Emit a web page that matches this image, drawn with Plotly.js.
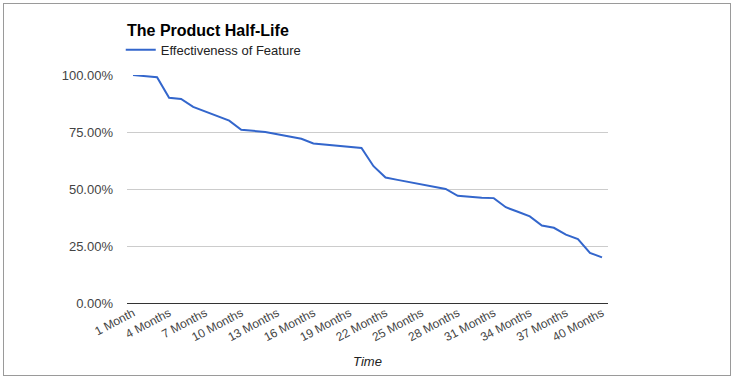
<!DOCTYPE html>
<html>
<head>
<meta charset="utf-8">
<script src="https://cdn.plot.ly/plotly-3.0.1.min.js"></script>
<style>
  html, body { margin: 0; padding: 0; background: #fff; }
  #wrap { position: relative; width: 736px; height: 378px; }
  #chart { width: 736px; height: 378px; }
  #frame { position: absolute; left: 3px; top: 3px; width: 726px; height: 371px; border: 1px solid #9a9a9a; pointer-events: none; }
</style>
</head>
<body>
<div id="wrap">
  <div id="chart"></div>
  <div id="frame"></div>
</div>
<script>
const months = [
  "1 Month", "2 Months", "3 Months", "4 Months", "5 Months", "6 Months", "7 Months", "8 Months",
  "9 Months", "10 Months", "11 Months", "12 Months", "13 Months", "14 Months", "15 Months", "16 Months",
  "17 Months", "18 Months", "19 Months", "20 Months", "21 Months", "22 Months", "23 Months", "24 Months",
  "25 Months", "26 Months", "27 Months", "28 Months", "29 Months", "30 Months", "31 Months", "32 Months",
  "33 Months", "34 Months", "35 Months", "36 Months", "37 Months", "38 Months", "39 Months", "40 Months"
];
const effectiveness = [
  1.00, 0.995, 0.99, 0.90, 0.895, 0.86, 0.84, 0.82,
  0.80, 0.76, 0.755, 0.75, 0.74, 0.73, 0.72, 0.70,
  0.695, 0.69, 0.685, 0.68, 0.60, 0.55, 0.54, 0.53,
  0.52, 0.51, 0.50, 0.47, 0.465, 0.462, 0.46, 0.42,
  0.40, 0.38, 0.34, 0.33, 0.30, 0.28, 0.22, 0.20
];
const seriesName = "Effectiveness of Feature";
const chartTitle = "The Product Half-Life";
const xTitle = "Time";
const yTicks = [0, 0.25, 0.5, 0.75, 1.0];
const xTickLabels = months.filter((m, i) => i % 3 === 0);

const FONT = "Liberation Sans, Arial, sans-serif";

const trace = {
  type: "scatter",
  mode: "lines",
  x: months,
  y: effectiveness,
  name: seriesName,
  line: { color: "#3366cc", width: 2 },
  hoverinfo: "x+y"
};

const layout = {
  width: 736,
  height: 378,
  margin: { l: 127, r: 128, t: 75, b: 75 },
  paper_bgcolor: "#ffffff",
  plot_bgcolor: "#ffffff",
  font: { family: FONT, color: "#444444", size: 13 },
  showlegend: true,
  title: {
    text: "<b>" + chartTitle + "</b>",
    font: { family: FONT, size: 16, color: "#000000" },
    xref: "container",
    x: 127 / 736,
    xanchor: "left",
    yref: "container",
    y: 1 - 30 / 378,
    yanchor: "middle"
  },
  legend: {
    orientation: "h",
    x: -0.013,
    xanchor: "left",
    y: 1.11,
    yanchor: "middle",
    font: { family: FONT, size: 13, color: "#222222" },
    bgcolor: "rgba(0,0,0,0)",
    itemwidth: 30
  },
  xaxis: {
    type: "category",
    range: [-0.5, months.length - 0.5],
    tickmode: "array",
    tickvals: xTickLabels,
    ticktext: xTickLabels,
    tickangle: -28,
    ticks: "",
    showgrid: false,
    showline: false,
    zeroline: false,
    tickfont: { family: FONT, size: 12, color: "#444444" },
    title: {
      text: "<i>" + xTitle + "</i>",
      font: { family: FONT, size: 13, color: "#222222" },
      standoff: 13
    },
    fixedrange: true
  },
  yaxis: {
    range: [0, 1],
    tickmode: "array",
    tickvals: yTicks,
    tickformat: ".2%",
    ticks: "",
    ticklabelstandoff: 13,
    showgrid: true,
    gridcolor: "#cccccc",
    gridwidth: 1,
    zeroline: true,
    zerolinecolor: "#333333",
    zerolinewidth: 1,
    showline: false,
    tickfont: { family: FONT, size: 13, color: "#444444" },
    fixedrange: true
  }
};

Plotly.newPlot("chart", [trace], layout, { displayModeBar: false, staticPlot: false });
</script>
</body>
</html>
